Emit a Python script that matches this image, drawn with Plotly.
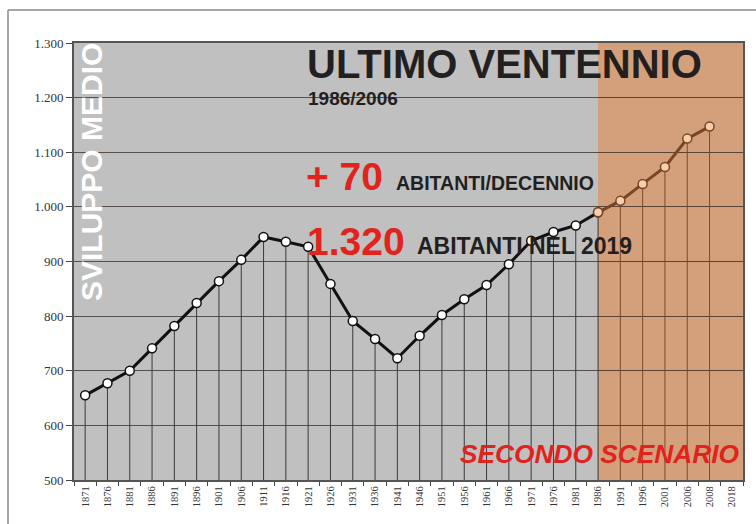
import plotly.graph_objects as go

# ---- data ----
years = ["1871", "1876", "1881", "1886", "1891", "1896", "1901", "1906", "1911", "1916",
         "1921", "1926", "1931", "1936", "1941", "1946", "1951", "1956", "1961", "1966",
         "1971", "1976", "1981", "1986", "1991", "1996", "2001", "2006", "2008", "2018"]
hist_years = years[:24]
hist_values = [655, 677, 700, 741, 782, 824, 864, 903, 945, 936,
               927, 859, 791, 758, 723, 764, 802, 831, 857, 895,
               938, 954, 966, 990]
scen_years = ["1986", "1991", "1996", "2001", "2006", "2008"]
scen_values = [990, 1011, 1042, 1073, 1125, 1147]
y_ticks = [500, 600, 700, 800, 900, 1000, 1100, 1200, 1300]

Y_MIN, Y_MAX = 500, 1300

# pixel helpers for annotation placement
W, H = 756, 524
L, R, T, B = 74, 13, 43, 44
PW, PH = W - L - R, H - T - B


def px(x):
    return (x - L) / PW


def py(y):
    return (H - B - y) / PH


fig = go.Figure()

fig.add_trace(go.Scatter(
    x=hist_years, y=hist_values, mode="lines+markers",
    line=dict(color="#111111", width=3),
    marker=dict(size=9, color="white", line=dict(color="#111111", width=1.5)),
    error_y=dict(type="data", symmetric=False,
                 array=[0] * len(hist_values),
                 arrayminus=[v - Y_MIN for v in hist_values],
                 width=0, thickness=1, color="#3a3a3a"),
    showlegend=False, hoverinfo="x+y",
))

fig.add_trace(go.Scatter(
    x=scen_years, y=scen_values, mode="lines+markers",
    line=dict(color="#7a4524", width=3),
    marker=dict(size=9, color="#f6cfae", line=dict(color="#7a4524", width=1.5)),
    error_y=dict(type="data", symmetric=False,
                 array=[0] * len(scen_values),
                 arrayminus=[0] + [v - Y_MIN for v in scen_values[1:]],
                 width=0, thickness=1, color="#7a4a2c"),
    showlegend=False, hoverinfo="x+y",
))

shapes = [
    # scenario background
    dict(type="rect", xref="x", yref="paper", x0=23, x1=29.5, y0=0, y1=1,
         fillcolor="#d4a07b", line=dict(width=0), layer="below"),
    # outer frame
    dict(type="line", xref="paper", yref="paper", x0=px(8), x1=px(760), y0=py(10), y1=py(10),
         line=dict(color="#8a8a8a", width=1.5)),
    dict(type="line", xref="paper", yref="paper", x0=px(8), x1=px(8), y0=py(10), y1=py(530),
         line=dict(color="#8a8a8a", width=1.5)),
]

RED = "#e0231c"
DARK = "#231f20"
SANS = "Liberation Sans, Arial, sans-serif"

annotations = [
    dict(text="<b>SVILUPPO MEDIO</b>", x=px(91), y=py(172), xref="paper", yref="paper",
         showarrow=False, textangle=-90, font=dict(family=SANS, size=30, color="white"),
         xanchor="center", yanchor="middle"),
    dict(text="<b>ULTIMO VENTENNIO</b>", x=px(305), y=py(64), xref="paper", yref="paper",
         showarrow=False, font=dict(family=SANS, size=40, color=DARK),
         xanchor="left", yanchor="middle"),
    dict(text="<b>1986/2006</b>", x=px(306), y=py(98), xref="paper", yref="paper",
         showarrow=False, font=dict(family=SANS, size=19, color=DARK),
         xanchor="left", yanchor="middle"),
    dict(text="<b>+ 70</b>", x=px(304), y=py(176), xref="paper", yref="paper",
         showarrow=False, font=dict(family=SANS, size=39, color=RED),
         xanchor="left", yanchor="middle"),
    dict(text="<b>ABITANTI/DECENNIO</b>", x=px(394), y=py(183), xref="paper", yref="paper",
         showarrow=False, font=dict(family=SANS, size=19.5, color=DARK),
         xanchor="left", yanchor="middle"),
    dict(text="<b>1.320</b>", x=px(305), y=py(241), xref="paper", yref="paper",
         showarrow=False, font=dict(family=SANS, size=39, color=RED),
         xanchor="left", yanchor="middle"),
    dict(text="<b>ABITANTI NEL 2019</b>", x=px(415), y=py(246), xref="paper", yref="paper",
         showarrow=False, font=dict(family=SANS, size=23, color=DARK),
         xanchor="left", yanchor="middle"),
    dict(text="<b><i>SECONDO SCENARIO</i></b>", x=px(742), y=py(454), xref="paper", yref="paper",
         showarrow=False, font=dict(family=SANS, size=26.3, color=RED),
         xanchor="right", yanchor="middle"),
]

fig.update_layout(
    width=W, height=H,
    margin=dict(l=L, r=R, t=T, b=B, pad=0, autoexpand=False),
    paper_bgcolor="white",
    plot_bgcolor="#c0c0c0",
    separators=",.",
    shapes=shapes,
    annotations=annotations,
    xaxis=dict(
        type="category", categoryorder="array", categoryarray=years,
        range=[-0.5, len(years) - 0.5], automargin=False,
        tickmode="array", tickvals=years, ticktext=years,
        tickangle=-90, tickson="boundaries", ticks="outside", ticklen=4,
        tickcolor="#444", showgrid=False, zeroline=False,
        showline=True, linecolor="#555", linewidth=2, mirror=True,
        tickfont=dict(family="Liberation Serif, Times New Roman, serif", size=10.5, color="#333"),
        fixedrange=True,
    ),
    yaxis=dict(
        range=[Y_MIN, Y_MAX], tickmode="array", tickvals=y_ticks, automargin=False,
        tickformat=",d", ticks="outside", ticklen=6, tickcolor="#444",
        showgrid=True, gridcolor="rgba(40,30,25,0.7)", gridwidth=1,
        zeroline=False, showline=True, linecolor="#555", linewidth=2, mirror=True,
        tickfont=dict(family="Liberation Serif, Times New Roman, serif", size=13, color="#333"),
        fixedrange=True,
    ),
)

fig.write_html("out.html", config={"displayModeBar": False},
               post_script="document.body.style.margin='0';")
